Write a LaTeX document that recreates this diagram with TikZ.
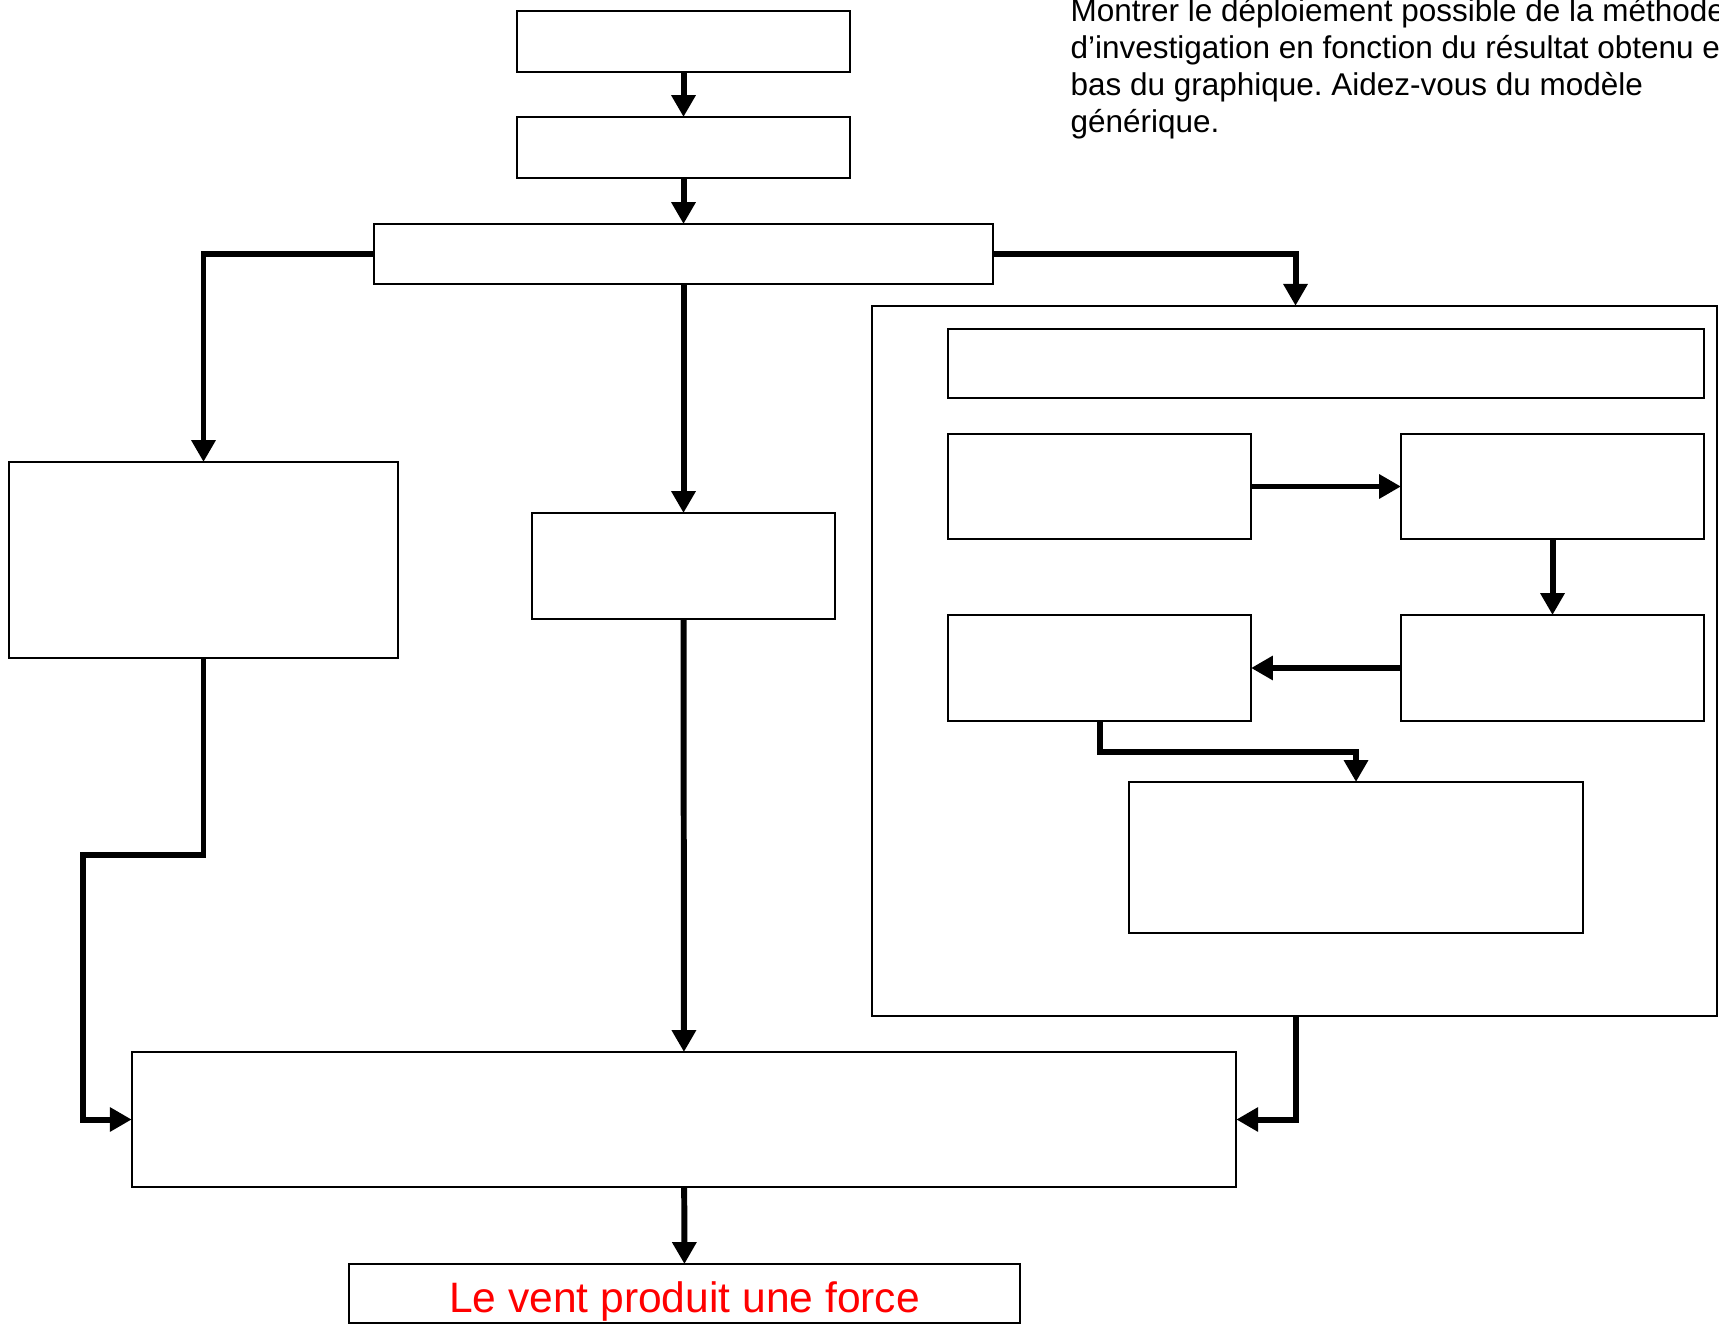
\documentclass[tikz,border=0pt]{standalone}
\usepackage{fontspec}
\setmainfont{Liberation Sans}
\usepackage{tikz}
\usetikzlibrary{arrows.meta}
\usepackage{xcolor}
\frenchspacing
\definecolor{ColText}{RGB}{255,0,0}
\tikzstyle{BoxStep}=[draw=black,line width=.6pt,inner sep=0pt,outer sep=0pt,fill=white]
\tikzstyle{ArrowStep}=[black,line width=1.7pt,line join=miter,
-{Triangle[width=6.6pt,length=6.2pt]}]
\tikzstyle{NoteText}=[inner sep=0pt,align=left,anchor=north west,
font=\fontsize{8.95pt}{10.5pt}\selectfont]

\begin{document}
\begin{tikzpicture}[x=0.01cm,y=-0.01cm]
        \useasboundingbox(0,0)rectangle(1719,1325);
        \node[NoteText](note)at(1070,-2){Montrer le déploiement possible de la méthode\\
        d’investigation en fonction du résultat obtenu en\\
        bas du graphique. Aidez-vous du modèle\\
        générique.};
        \node[BoxStep,minimum width=3.33cm,minimum height=.61cm](b1)at(683.5,41.5){};
        \node[BoxStep,minimum width=3.33cm,minimum height=.61cm](b2)at(683.5,147.5){};
        \node[BoxStep,minimum width=6.19cm,minimum height=.6cm](b3)at(683.5,254){};
        \node[BoxStep,minimum width=3.89cm,minimum height=1.96cm](lb)at(203.5,560){};
        \node[BoxStep,minimum width=3.03cm,minimum height=1.06cm](mb)at(683.5,566){};
        \node[BoxStep,minimum width=8.45cm,minimum height=7.1cm](ct)at(1294.5,661){};
        \node[BoxStep,minimum width=7.56cm,minimum height=.69cm](it)at(1326,363.5){};
        \node[BoxStep,minimum width=3.03cm,minimum height=1.05cm](r1l)at(1099.5,486.5){};
        \node[BoxStep,minimum width=3.03cm,minimum height=1.05cm](r1r)at(1552.5,486.5){};
        \node[BoxStep,minimum width=3.03cm,minimum height=1.06cm](r2l)at(1099.5,668){};
        \node[BoxStep,minimum width=3.03cm,minimum height=1.06cm](r2r)at(1552.5,668){};
        \node[BoxStep,minimum width=4.54cm,minimum height=1.51cm](ib)at(1356,857.5){};
        \node[BoxStep,minimum width=11.04cm,minimum height=1.35cm](big)at(684,1119.5){};
        \node[BoxStep,minimum width=6.71cm,minimum height=.59cm,text=ColText,
        font=\fontsize{12.1pt}{14pt}\selectfont](fin)at(684.5,1293.5){\raisebox{-.08cm}[\height][\depth]{Le vent produit une force}};
        \coordinate(lk)at(83,855);
        \draw[ArrowStep](b1)--(b2);
        \draw[ArrowStep](b2)--(b3);
        \draw[ArrowStep](b3.west)-|(lb.north);
        \draw[ArrowStep](b3)--(mb);
        \draw[ArrowStep](b3.east)-|([xshift=.01cm]ct.north);
        \draw[ArrowStep](r1l)--(r1r);
        \draw[ArrowStep](r1r)--(r2r);
        \draw[ArrowStep](r2r)--(r2l);
        \draw[ArrowStep](r2l.south)--++(0,31)-|(ib.north);
        \draw[ArrowStep](mb)--(big);
        \draw[ArrowStep](lb.south)|-(lk)|-(big.west);
        \draw[ArrowStep]([xshift=.01cm]ct.south)|-(big.east);
        \draw[ArrowStep](big)--(fin);
    \end{tikzpicture}
\end{document}
